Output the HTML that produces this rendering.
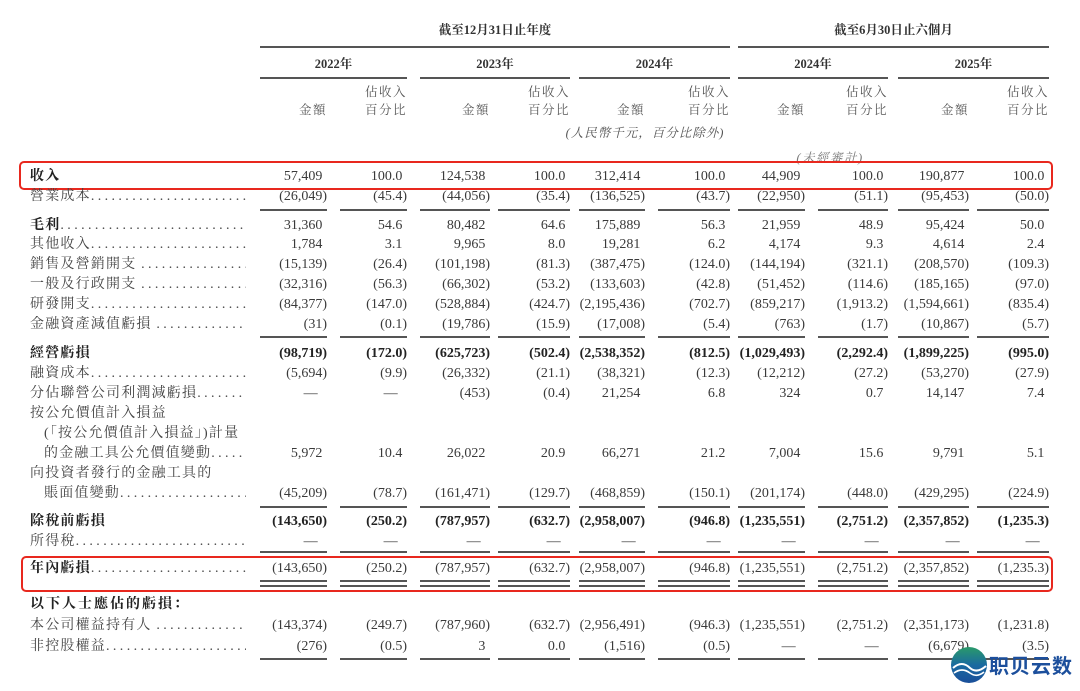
<!DOCTYPE html>
<html><head><meta charset="utf-8">
<style>
*{margin:0;padding:0;box-sizing:border-box}
body{width:1080px;height:691px;background:#fff;position:relative;overflow:hidden;font-family:"Liberation Serif","Noto Serif CJK SC",serif;color:#3a3a3a}
.r{position:absolute;left:0;width:1080px;height:18px;line-height:18px;font-size:14px}
.l{position:absolute;left:30px;width:216px;overflow:hidden;white-space:nowrap;letter-spacing:1.2px;color:#444}
.l.in{left:44px;width:202px}
.d{letter-spacing:3.4px}
.c{position:absolute;width:100px;text-align:right;white-space:nowrap}
.b{font-weight:bold;color:#222}
s{visibility:hidden;text-decoration:none}
.c0{left:227px}.c1{left:307px}.c2{left:390px}.c3{left:470px}.c4{left:545px}.c5{left:630px}.c6{left:705px}.c7{left:788px}.c8{left:869px}.c9{left:949px}
.ln{position:absolute;height:1.5px;background:#555}
.h{position:absolute;font-size:12.5px;font-weight:bold;color:#333;text-align:center;font-family:"Liberation Serif","Noto Serif CJK TC",serif}
.sh{position:absolute;font-size:12.5px;color:#555;text-align:right;line-height:18px;letter-spacing:1.5px}
.box{position:absolute;border:2px solid #e8281e;border-radius:5px}
</style></head><body>

<div class="h" style="left:260px;width:470px;top:20px">截至12月31日止年度</div>
<div class="h" style="left:738px;width:311px;top:20px">截至6月30日止六個月</div>
<div class="ln" style="left:260px;width:470px;top:46px;height:2px"></div>
<div class="ln" style="left:738px;width:311px;top:46px;height:2px"></div>
<div class="h" style="left:260px;width:147px;top:54px">2022年</div>
<div class="h" style="left:420px;width:150px;top:54px">2023年</div>
<div class="h" style="left:579px;width:151px;top:54px">2024年</div>
<div class="h" style="left:738px;width:150px;top:54px">2024年</div>
<div class="h" style="left:898px;width:151px;top:54px">2025年</div>
<div class="ln" style="left:260px;width:147px;top:77px;height:2px"></div>
<div class="ln" style="left:420px;width:150px;top:77px;height:2px"></div>
<div class="ln" style="left:579px;width:151px;top:77px;height:2px"></div>
<div class="ln" style="left:738px;width:150px;top:77px;height:2px"></div>
<div class="ln" style="left:898px;width:151px;top:77px;height:2px"></div>

<div class="sh" style="left:227px;width:100px;top:101px">金額</div>
<div class="sh" style="left:307px;width:100px;top:83px">佔收入<br>百分比</div>
<div class="sh" style="left:390px;width:100px;top:101px">金額</div>
<div class="sh" style="left:470px;width:100px;top:83px">佔收入<br>百分比</div>
<div class="sh" style="left:545px;width:100px;top:101px">金額</div>
<div class="sh" style="left:630px;width:100px;top:83px">佔收入<br>百分比</div>
<div class="sh" style="left:705px;width:100px;top:101px">金額</div>
<div class="sh" style="left:788px;width:100px;top:83px">佔收入<br>百分比</div>
<div class="sh" style="left:869px;width:100px;top:101px">金額</div>
<div class="sh" style="left:949px;width:100px;top:83px">佔收入<br>百分比</div>
<div class="sh" style="left:560px;width:170px;top:124px;font-style:italic;text-align:center;letter-spacing:1px">(人民幣千元，百分比除外)</div>
<div class="sh" style="left:790px;width:80px;top:149px;font-style:italic;text-align:center;color:#777">(未經審計)</div>

<div class="box" style="left:19px;top:161px;width:1034px;height:29px"></div>
<div class="box" style="left:21px;top:556px;width:1032px;height:36px"></div>

<div class="r" style="top:168px"><div class="l b">收入</div><span class="c c0">57,409<s>)</s></span><span class="c c1">100.0<s>)</s></span><span class="c c2">124,538<s>)</s></span><span class="c c3">100.0<s>)</s></span><span class="c c4">312,414<s>)</s></span><span class="c c5">100.0<s>)</s></span><span class="c c6">44,909<s>)</s></span><span class="c c7">100.0<s>)</s></span><span class="c c8">190,877<s>)</s></span><span class="c c9">100.0<s>)</s></span></div>
<div class="r" style="top:188px"><div class="l">營業成本<span class="d">.......................................</span></div><span class="c c0">(26,049)</span><span class="c c1">(45.4)</span><span class="c c2">(44,056)</span><span class="c c3">(35.4)</span><span class="c c4">(136,525)</span><span class="c c5">(43.7)</span><span class="c c6">(22,950)</span><span class="c c7">(51.1)</span><span class="c c8">(95,453)</span><span class="c c9">(50.0)</span></div>
<div class="ln" style="left:260px;width:67px;top:209px"></div><div class="ln" style="left:340px;width:67px;top:209px"></div><div class="ln" style="left:420px;width:70px;top:209px"></div><div class="ln" style="left:498px;width:72px;top:209px"></div><div class="ln" style="left:579px;width:66px;top:209px"></div><div class="ln" style="left:658px;width:72px;top:209px"></div><div class="ln" style="left:738px;width:67px;top:209px"></div><div class="ln" style="left:818px;width:70px;top:209px"></div><div class="ln" style="left:898px;width:71px;top:209px"></div><div class="ln" style="left:977px;width:72px;top:209px"></div>

<div class="r" style="top:217px"><div class="l"><b class="b">毛利</b><span class="d">.......................................</span></div><span class="c c0">31,360<s>)</s></span><span class="c c1">54.6<s>)</s></span><span class="c c2">80,482<s>)</s></span><span class="c c3">64.6<s>)</s></span><span class="c c4">175,889<s>)</s></span><span class="c c5">56.3<s>)</s></span><span class="c c6">21,959<s>)</s></span><span class="c c7">48.9<s>)</s></span><span class="c c8">95,424<s>)</s></span><span class="c c9">50.0<s>)</s></span></div>
<div class="r" style="top:236px"><div class="l">其他收入<span class="d">.......................................</span></div><span class="c c0">1,784<s>)</s></span><span class="c c1">3.1<s>)</s></span><span class="c c2">9,965<s>)</s></span><span class="c c3">8.0<s>)</s></span><span class="c c4">19,281<s>)</s></span><span class="c c5">6.2<s>)</s></span><span class="c c6">4,174<s>)</s></span><span class="c c7">9.3<s>)</s></span><span class="c c8">4,614<s>)</s></span><span class="c c9">2.4<s>)</s></span></div>
<div class="r" style="top:256px"><div class="l">銷售及營銷開支 <span class="d">.......................................</span></div><span class="c c0">(15,139)</span><span class="c c1">(26.4)</span><span class="c c2">(101,198)</span><span class="c c3">(81.3)</span><span class="c c4">(387,475)</span><span class="c c5">(124.0)</span><span class="c c6">(144,194)</span><span class="c c7">(321.1)</span><span class="c c8">(208,570)</span><span class="c c9">(109.3)</span></div>
<div class="r" style="top:276px"><div class="l">一般及行政開支 <span class="d">.......................................</span></div><span class="c c0">(32,316)</span><span class="c c1">(56.3)</span><span class="c c2">(66,302)</span><span class="c c3">(53.2)</span><span class="c c4">(133,603)</span><span class="c c5">(42.8)</span><span class="c c6">(51,452)</span><span class="c c7">(114.6)</span><span class="c c8">(185,165)</span><span class="c c9">(97.0)</span></div>
<div class="r" style="top:296px"><div class="l">研發開支<span class="d">.......................................</span></div><span class="c c0">(84,377)</span><span class="c c1">(147.0)</span><span class="c c2">(528,884)</span><span class="c c3">(424.7)</span><span class="c c4">(2,195,436)</span><span class="c c5">(702.7)</span><span class="c c6">(859,217)</span><span class="c c7">(1,913.2)</span><span class="c c8">(1,594,661)</span><span class="c c9">(835.4)</span></div>
<div class="r" style="top:316px"><div class="l">金融資產減值虧損 <span class="d">.......................................</span></div><span class="c c0">(31)</span><span class="c c1">(0.1)</span><span class="c c2">(19,786)</span><span class="c c3">(15.9)</span><span class="c c4">(17,008)</span><span class="c c5">(5.4)</span><span class="c c6">(763)</span><span class="c c7">(1.7)</span><span class="c c8">(10,867)</span><span class="c c9">(5.7)</span></div>
<div class="ln" style="left:260px;width:67px;top:336px"></div><div class="ln" style="left:340px;width:67px;top:336px"></div><div class="ln" style="left:420px;width:70px;top:336px"></div><div class="ln" style="left:498px;width:72px;top:336px"></div><div class="ln" style="left:579px;width:66px;top:336px"></div><div class="ln" style="left:658px;width:72px;top:336px"></div><div class="ln" style="left:738px;width:67px;top:336px"></div><div class="ln" style="left:818px;width:70px;top:336px"></div><div class="ln" style="left:898px;width:71px;top:336px"></div><div class="ln" style="left:977px;width:72px;top:336px"></div>

<div class="r b" style="top:345px"><div class="l b">經營虧損</div><span class="c c0">(98,719)</span><span class="c c1">(172.0)</span><span class="c c2">(625,723)</span><span class="c c3">(502.4)</span><span class="c c4">(2,538,352)</span><span class="c c5">(812.5)</span><span class="c c6">(1,029,493)</span><span class="c c7">(2,292.4)</span><span class="c c8">(1,899,225)</span><span class="c c9">(995.0)</span></div>
<div class="r" style="top:365px"><div class="l">融資成本<span class="d">.......................................</span></div><span class="c c0">(5,694)</span><span class="c c1">(9.9)</span><span class="c c2">(26,332)</span><span class="c c3">(21.1)</span><span class="c c4">(38,321)</span><span class="c c5">(12.3)</span><span class="c c6">(12,212)</span><span class="c c7">(27.2)</span><span class="c c8">(53,270)</span><span class="c c9">(27.9)</span></div>
<div class="r" style="top:385px"><div class="l">分佔聯營公司利潤減虧損<span class="d">.......................................</span></div><span class="c c0">—<s>))</s></span><span class="c c1">—<s>))</s></span><span class="c c2">(453)</span><span class="c c3">(0.4)</span><span class="c c4">21,254<s>)</s></span><span class="c c5">6.8<s>)</s></span><span class="c c6">324<s>)</s></span><span class="c c7">0.7<s>)</s></span><span class="c c8">14,147<s>)</s></span><span class="c c9">7.4<s>)</s></span></div>
<div class="r" style="top:405px"><div class="l">按公允價值計入損益</div></div>
<div class="r" style="top:425px"><div class="l in">(「按公允價值計入損益」)計量</div></div>
<div class="r" style="top:445px"><div class="l in">的金融工具公允價值變動<span class="d">.......................................</span></div><span class="c c0">5,972<s>)</s></span><span class="c c1">10.4<s>)</s></span><span class="c c2">26,022<s>)</s></span><span class="c c3">20.9<s>)</s></span><span class="c c4">66,271<s>)</s></span><span class="c c5">21.2<s>)</s></span><span class="c c6">7,004<s>)</s></span><span class="c c7">15.6<s>)</s></span><span class="c c8">9,791<s>)</s></span><span class="c c9">5.1<s>)</s></span></div>
<div class="r" style="top:465px"><div class="l">向投資者發行的金融工具的</div></div>
<div class="r" style="top:485px"><div class="l in">賬面值變動<span class="d">.......................................</span></div><span class="c c0">(45,209)</span><span class="c c1">(78.7)</span><span class="c c2">(161,471)</span><span class="c c3">(129.7)</span><span class="c c4">(468,859)</span><span class="c c5">(150.1)</span><span class="c c6">(201,174)</span><span class="c c7">(448.0)</span><span class="c c8">(429,295)</span><span class="c c9">(224.9)</span></div>
<div class="ln" style="left:260px;width:67px;top:506px"></div><div class="ln" style="left:340px;width:67px;top:506px"></div><div class="ln" style="left:420px;width:70px;top:506px"></div><div class="ln" style="left:498px;width:72px;top:506px"></div><div class="ln" style="left:579px;width:66px;top:506px"></div><div class="ln" style="left:658px;width:72px;top:506px"></div><div class="ln" style="left:738px;width:67px;top:506px"></div><div class="ln" style="left:818px;width:70px;top:506px"></div><div class="ln" style="left:898px;width:71px;top:506px"></div><div class="ln" style="left:977px;width:72px;top:506px"></div>

<div class="r b" style="top:513px"><div class="l b">除稅前虧損</div><span class="c c0">(143,650)</span><span class="c c1">(250.2)</span><span class="c c2">(787,957)</span><span class="c c3">(632.7)</span><span class="c c4">(2,958,007)</span><span class="c c5">(946.8)</span><span class="c c6">(1,235,551)</span><span class="c c7">(2,751.2)</span><span class="c c8">(2,357,852)</span><span class="c c9">(1,235.3)</span></div>
<div class="r" style="top:533px"><div class="l">所得稅<span class="d">.......................................</span></div><span class="c c0">—<s>))</s></span><span class="c c1">—<s>))</s></span><span class="c c2">—<s>))</s></span><span class="c c3">—<s>))</s></span><span class="c c4">—<s>))</s></span><span class="c c5">—<s>))</s></span><span class="c c6">—<s>))</s></span><span class="c c7">—<s>))</s></span><span class="c c8">—<s>))</s></span><span class="c c9">—<s>))</s></span></div>
<div class="ln" style="left:260px;width:67px;top:551px;height:2px"></div><div class="ln" style="left:340px;width:67px;top:551px;height:2px"></div><div class="ln" style="left:420px;width:70px;top:551px;height:2px"></div><div class="ln" style="left:498px;width:72px;top:551px;height:2px"></div><div class="ln" style="left:579px;width:66px;top:551px;height:2px"></div><div class="ln" style="left:658px;width:72px;top:551px;height:2px"></div><div class="ln" style="left:738px;width:67px;top:551px;height:2px"></div><div class="ln" style="left:818px;width:70px;top:551px;height:2px"></div><div class="ln" style="left:898px;width:71px;top:551px;height:2px"></div><div class="ln" style="left:977px;width:72px;top:551px;height:2px"></div>

<div class="r" style="top:560px"><div class="l"><b class="b">年內虧損</b><span class="d">.......................................</span></div><span class="c c0">(143,650)</span><span class="c c1">(250.2)</span><span class="c c2">(787,957)</span><span class="c c3">(632.7)</span><span class="c c4">(2,958,007)</span><span class="c c5">(946.8)</span><span class="c c6">(1,235,551)</span><span class="c c7">(2,751.2)</span><span class="c c8">(2,357,852)</span><span class="c c9">(1,235.3)</span></div>
<div class="ln" style="left:260px;width:67px;top:580px"></div><div class="ln" style="left:340px;width:67px;top:580px"></div><div class="ln" style="left:420px;width:70px;top:580px"></div><div class="ln" style="left:498px;width:72px;top:580px"></div><div class="ln" style="left:579px;width:66px;top:580px"></div><div class="ln" style="left:658px;width:72px;top:580px"></div><div class="ln" style="left:738px;width:67px;top:580px"></div><div class="ln" style="left:818px;width:70px;top:580px"></div><div class="ln" style="left:898px;width:71px;top:580px"></div><div class="ln" style="left:977px;width:72px;top:580px"></div>
<div class="ln" style="left:260px;width:67px;top:585px"></div><div class="ln" style="left:340px;width:67px;top:585px"></div><div class="ln" style="left:420px;width:70px;top:585px"></div><div class="ln" style="left:498px;width:72px;top:585px"></div><div class="ln" style="left:579px;width:66px;top:585px"></div><div class="ln" style="left:658px;width:72px;top:585px"></div><div class="ln" style="left:738px;width:67px;top:585px"></div><div class="ln" style="left:818px;width:70px;top:585px"></div><div class="ln" style="left:898px;width:71px;top:585px"></div><div class="ln" style="left:977px;width:72px;top:585px"></div>

<div class="r" style="top:596px"><div class="l b" style="letter-spacing:2px">以下人士應佔的虧損：</div></div>
<div class="r" style="top:617px"><div class="l">本公司權益持有人 <span class="d">.......................................</span></div><span class="c c0">(143,374)</span><span class="c c1">(249.7)</span><span class="c c2">(787,960)</span><span class="c c3">(632.7)</span><span class="c c4">(2,956,491)</span><span class="c c5">(946.3)</span><span class="c c6">(1,235,551)</span><span class="c c7">(2,751.2)</span><span class="c c8">(2,351,173)</span><span class="c c9">(1,231.8)</span></div>
<div class="r" style="top:638px"><div class="l">非控股權益<span class="d">.......................................</span></div><span class="c c0">(276)</span><span class="c c1">(0.5)</span><span class="c c2">3<s>)</s></span><span class="c c3">0.0<s>)</s></span><span class="c c4">(1,516)</span><span class="c c5">(0.5)</span><span class="c c6">—<s>))</s></span><span class="c c7">—<s>))</s></span><span class="c c8">(6,679)</span><span class="c c9">(3.5)</span></div>
<div class="ln" style="left:260px;width:67px;top:658px"></div><div class="ln" style="left:340px;width:67px;top:658px"></div><div class="ln" style="left:420px;width:70px;top:658px"></div><div class="ln" style="left:498px;width:72px;top:658px"></div><div class="ln" style="left:579px;width:66px;top:658px"></div><div class="ln" style="left:658px;width:72px;top:658px"></div><div class="ln" style="left:738px;width:67px;top:658px"></div><div class="ln" style="left:818px;width:70px;top:658px"></div><div class="ln" style="left:898px;width:71px;top:658px"></div><div class="ln" style="left:977px;width:72px;top:658px"></div>

<svg style="position:absolute;left:950px;top:646px" width="38" height="38" viewBox="0 0 38 38">
<defs><linearGradient id="g" x1="0" y1="0" x2="0" y2="1"><stop offset="0" stop-color="#2a9a6a"/><stop offset="0.5" stop-color="#1a6aa0"/><stop offset="1" stop-color="#1a4f9a"/></linearGradient></defs>
<circle cx="19" cy="19" r="18" fill="url(#g)"/>
<path d="M3 22 Q12 14 20 22 Q27 28 36 20" stroke="#fff" stroke-width="2" fill="none"/>
<path d="M4 27 Q12 21 20 27 Q27 32 34 26" stroke="#fff" stroke-width="1.6" fill="none"/>
</svg>
<div style="position:absolute;left:989px;top:650px;font-family:'Noto Sans CJK SC',sans-serif;font-size:20px;font-weight:bold;color:#1c4f9c;letter-spacing:1px">职贝云数</div>
</body></html>
